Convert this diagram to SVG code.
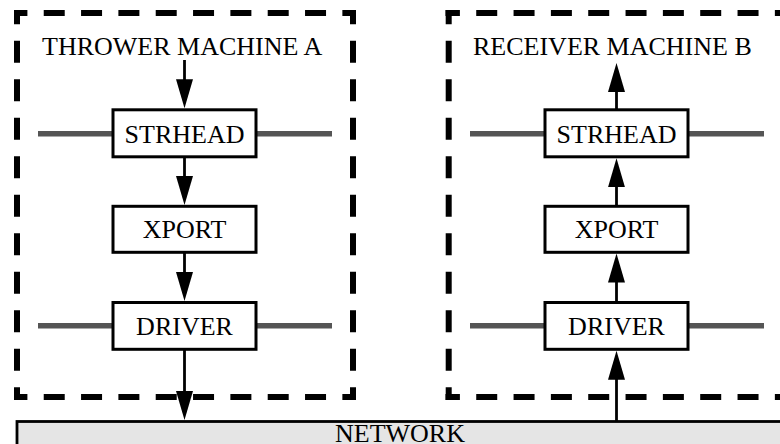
<svg xmlns="http://www.w3.org/2000/svg" width="780" height="444" viewBox="0 0 780 444">
  <style>
    .frame { stroke: #000; stroke-width: 6; fill: none; }
    .fh { stroke-dasharray: 21 16.33; }
    .fv { stroke-dasharray: 22 16.5; stroke-dashoffset: 7.8; }
    .bus { stroke: #555; stroke-width: 5.5; fill: none; }
    .box { fill: #fff; stroke: #000; stroke-width: 3; }
    .flow { stroke: #000; stroke-width: 2.8; fill: none; marker-end: url(#head); }
    text { font-family: "Liberation Serif", "Times New Roman", serif; font-size: 26px; fill: #000; }
    .c { text-anchor: middle; }
  </style>
  <defs>
    <marker id="head" markerUnits="userSpaceOnUse" markerWidth="30" markerHeight="18" viewBox="0 0 30 18" refX="19" refY="8.5" orient="auto">
      <path d="M0,0 L29,8.5 L0,17 z" fill="#000"/>
    </marker>
  </defs>

  <!-- network strip along the bottom -->
  <g id="network">
    <rect x="17" y="421.5" width="800" height="40" fill="#e5e5e5" stroke="#000" stroke-width="2.8"/>
    <text class="c" x="400" y="441.5">NETWORK</text>
  </g>

  <!-- machine A enclosure -->
  <g id="machineA">
    <line class="frame fh" x1="14" y1="13" x2="356" y2="13" stroke-dashoffset="7.6"/>
    <line class="frame fh" x1="14" y1="397" x2="356" y2="397" stroke-dashoffset="7.6"/>
    <line class="frame fv" x1="17" y1="10" x2="17" y2="400"/>
    <line class="frame fv" x1="353" y1="10" x2="353" y2="400"/>
    <text x="42" y="55">THROWER MACHINE A</text>
  </g>

  <!-- machine B enclosure -->
  <g id="machineB">
    <line class="frame fh" x1="445.5" y1="13" x2="800" y2="13" stroke-dashoffset="6.6"/>
    <line class="frame fh" x1="445.5" y1="397" x2="800" y2="397" stroke-dashoffset="6.6"/>
    <line class="frame fv" x1="448.7" y1="10" x2="448.7" y2="400"/>
    <text x="473" y="55">RECEIVER MACHINE B</text>
  </g>

  <!-- side streams through the stream head and driver -->
  <g id="buses">
    <line class="bus" x1="38" y1="133.8" x2="332" y2="133.8"/>
    <line class="bus" x1="38" y1="325.7" x2="332" y2="325.7"/>
    <line class="bus" x1="470" y1="133.8" x2="764" y2="133.8"/>
    <line class="bus" x1="470" y1="325.7" x2="764" y2="325.7"/>
  </g>

  <g id="connectors">
    <line class="flow" x1="184.5" y1="60" x2="184.5" y2="98.3"/>
    <line class="flow" x1="184.5" y1="158" x2="184.5" y2="195"/>
    <line class="flow" x1="184.5" y1="252" x2="184.5" y2="291"/>
    <line class="flow" x1="184.5" y1="349" x2="184.5" y2="410"/>
    <line class="flow" x1="616.5" y1="421" x2="616.5" y2="360.7"/>
    <line class="flow" x1="616.5" y1="302" x2="616.5" y2="263.5"/>
    <line class="flow" x1="616.5" y1="206" x2="616.5" y2="168.3"/>
    <line class="flow" x1="616.5" y1="109" x2="616.5" y2="73"/>
  </g>

  <g id="strheadA">
    <rect class="box" x="113" y="109.8" width="143" height="47"/>
    <text class="c" x="184.5" y="143">STRHEAD</text>
  </g>
  <g id="xportA">
    <rect class="box" x="113" y="206.3" width="143" height="46"/>
    <text class="c" x="184.5" y="238.3">XPORT</text>
  </g>
  <g id="driverA">
    <rect class="box" x="113" y="302.5" width="143" height="46.8"/>
    <text class="c" x="184.5" y="335">DRIVER</text>
  </g>

  <g id="strheadB">
    <rect class="box" x="545" y="109.8" width="143" height="47"/>
    <text class="c" x="616.5" y="143">STRHEAD</text>
  </g>
  <g id="xportB">
    <rect class="box" x="545" y="206.3" width="143" height="46"/>
    <text class="c" x="616.5" y="238.3">XPORT</text>
  </g>
  <g id="driverB">
    <rect class="box" x="545" y="302.5" width="143" height="46.8"/>
    <text class="c" x="616.5" y="335">DRIVER</text>
  </g>
</svg>
